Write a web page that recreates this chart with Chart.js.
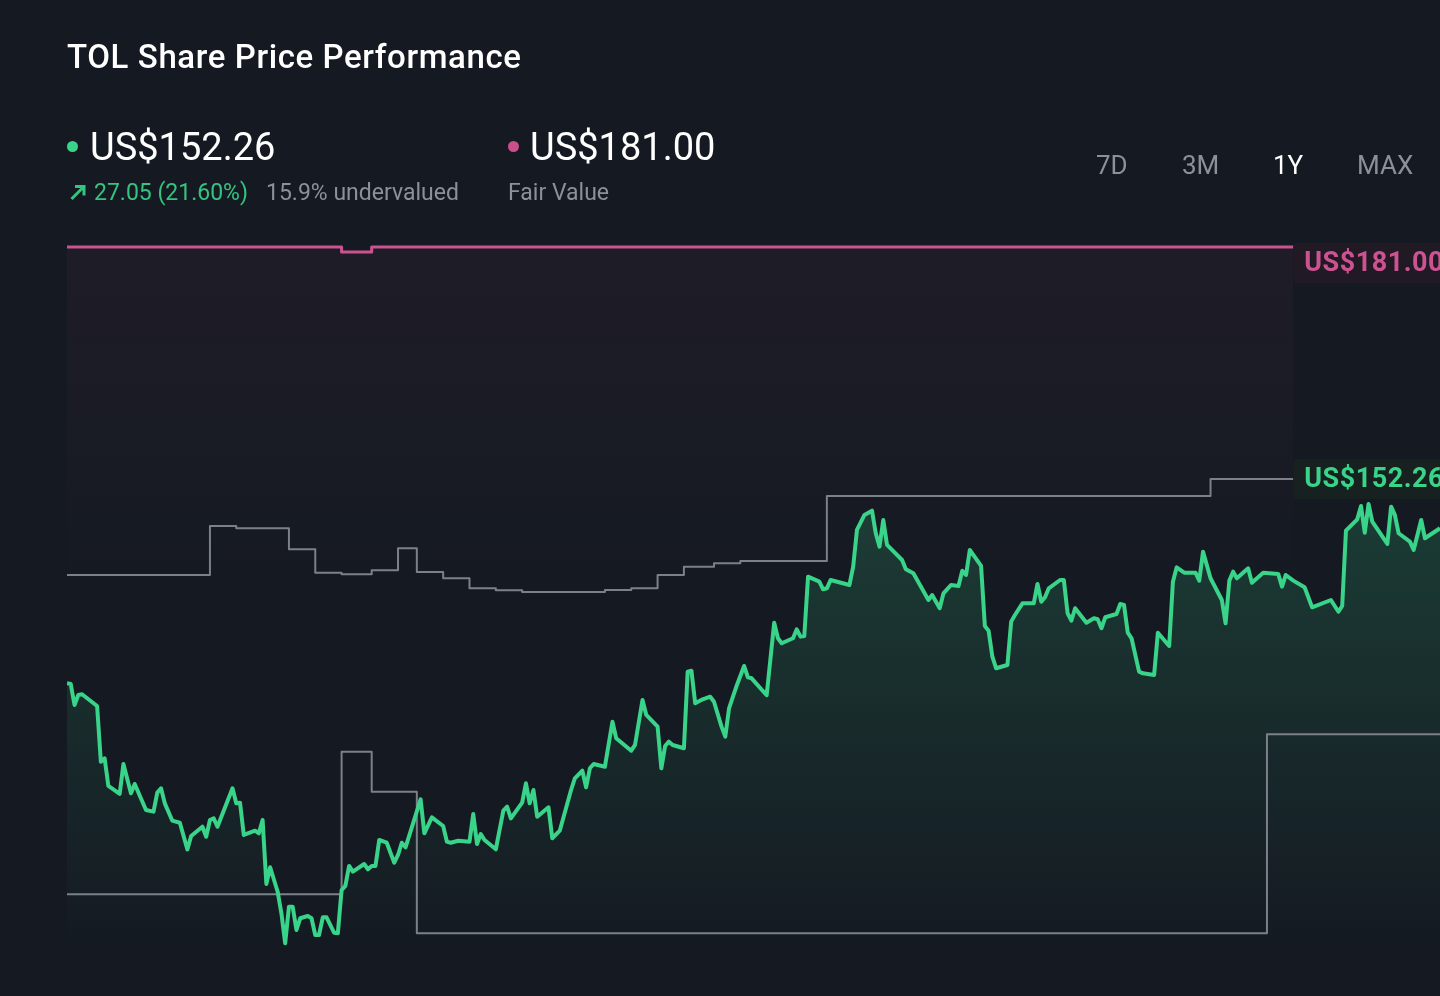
<!DOCTYPE html>
<html>
<head>
<meta charset="utf-8">
<title>TOL Share Price Performance</title>
<script src="https://cdn.jsdelivr.net/npm/chart.js@4.4.1/dist/chart.umd.min.js"></script>
<style>
  html, body { margin: 0; padding: 0; background: #151a22; }
  body { width: 1440px; height: 996px; overflow: hidden; font-family: Roboto, "Noto Sans", sans-serif; }
  #wrap { position: relative; width: 1440px; height: 996px; }
  #chart { position: absolute; left: 0; top: 0; }
  .t { position: absolute; line-height: 1; white-space: nowrap; }
  .dot { position: absolute; width: 11px; height: 11px; border-radius: 50%; }
  .tab { position: absolute; top: 152px; font-size: 26px; line-height: 1; color: #8b9099; }
</style>
</head>
<body>
<div id="wrap">
  <canvas id="chart" width="1440" height="996"></canvas>

  <div class="t" style="left:67px;top:40px;font-size:33px;font-weight:500;letter-spacing:0.6px;color:#ffffff;">TOL Share Price Performance</div>

  <div class="dot" style="left:67px;top:141px;background:#3ad38a;"></div>
  <div class="t" style="left:90px;top:128px;font-size:38px;color:#ffffff;">US$152.26</div>
  <svg style="position:absolute;left:69px;top:183px;" width="18" height="18" viewBox="0 0 18 18">
    <path d="M2.5 16 L14.5 4 M6 3.5 L15 3.5 L15 12.5" fill="none" stroke="#35c47f" stroke-width="3"/>
  </svg>
  <div class="t" style="left:94px;top:181px;font-size:23px;color:#35c47f;">27.05 (21.60%)</div>
  <div class="t" style="left:266px;top:181px;font-size:23px;color:#8c9199;">15.9% undervalued</div>

  <div class="dot" style="left:508px;top:141px;background:#c9508c;"></div>
  <div class="t" style="left:530px;top:128px;font-size:38px;color:#ffffff;">US$181.00</div>
  <div class="t" style="left:508px;top:181px;font-size:23px;color:#8c9199;">Fair Value</div>

  <div class="tab" style="left:1096px;">7D</div>
  <div class="tab" style="left:1182px;">3M</div>
  <div class="tab" style="left:1273px;color:#ffffff;">1Y</div>
  <div class="tab" style="left:1357px;">MAX</div>
</div>

<script>
// Share price, one year (day number from start, price in US$)
const days = [0, 1, 2, 3, 4, 8, 9, 10, 11, 14, 15, 17, 18, 21, 23, 24, 25, 26, 28, 30,
  32, 33, 36, 37, 38, 39, 40, 44, 45, 46, 47, 50, 51, 52, 53, 54, 56, 57, 58, 59,
  60, 61, 62, 64, 65, 66, 67, 68, 69, 71, 72, 73, 74, 75, 76, 79, 80, 81, 82, 83,
  85, 87, 88, 89, 90, 94, 95, 97, 100, 101, 102, 104, 107, 108, 109, 110, 111, 114, 116, 117,
  118, 121, 122, 123, 124, 125, 128, 129, 131, 134, 135, 137, 138, 139, 140, 143, 145, 146, 150, 151,
  153, 154, 157, 158, 159, 160, 161, 164, 165, 166, 167, 169, 171, 172, 174, 175, 176, 178, 180, 181,
  182, 186, 188, 189, 190, 193, 194, 195, 196, 197, 200, 201, 202, 203, 208, 209, 210, 212, 214, 215,
  216, 217, 218, 222, 223, 225, 229, 230, 232, 233, 235, 237, 238, 239, 240, 243, 244, 245, 246, 247,
  250, 251, 252, 254, 257, 258, 259, 260, 261, 264, 265, 266, 267, 268, 271, 273, 274, 275, 276, 279,
  280, 281, 282, 283, 285, 286, 289, 290, 293, 294, 295, 297, 300, 301, 302, 304, 307, 308, 309, 310,
  311, 314, 315, 318, 322, 323, 324, 326, 329, 331, 336, 338, 339, 340, 343, 344, 345, 346, 347, 351,
  352, 353, 354, 357, 358, 360, 361, 365];
const prices = [126.94, 126.85, 124.25, 125.49, 125.58, 124.13, 117.23, 117.65, 114.22, 113.23, 116.94, 113.31, 114.47, 111.25, 111.04, 113.39, 113.93, 112.07, 109.92, 109.67,
  106.37, 108.02, 109.17, 107.93, 110.00, 110.21, 109.17, 113.93, 112.07, 112.15, 108.15, 108.68, 108.36, 110.00, 102.08, 104.15, 101.12, 98.44, 94.73, 99.26,
  99.26, 96.38, 97.83, 98.11, 97.83, 95.76, 95.76, 97.95, 97.95, 96.04, 95.97, 101.33, 101.83, 104.31, 103.60, 104.55, 103.90, 104.31, 104.31, 107.53,
  107.19, 104.71, 105.67, 107.19, 106.62, 112.57, 108.36, 110.34, 109.26, 107.32, 107.19, 107.44, 107.32, 110.75, 107.03, 108.27, 107.53, 106.38, 111.16, 111.65,
  110.21, 112.15, 114.55, 112.07, 113.72, 110.41, 111.58, 107.74, 108.68, 113.72, 115.17, 116.11, 114.06, 116.41, 116.94, 116.61, 122.18, 120.13, 118.59, 119.30,
  124.88, 123.02, 121.57, 116.41, 119.17, 119.71, 119.30, 118.89, 128.38, 128.50, 124.46, 124.96, 125.28, 124.66, 121.57, 120.33, 123.84, 126.61, 129.09, 127.69,
  127.56, 125.46, 134.45, 132.52, 131.90, 132.52, 133.63, 132.72, 132.80, 140.15, 139.53, 138.59, 138.71, 139.74, 139.12, 141.39, 145.94, 147.80, 148.33, 145.53,
  143.87, 147.18, 144.08, 142.22, 141.07, 140.57, 137.26, 137.88, 136.24, 138.09, 139.12, 138.99, 140.89, 140.36, 143.46, 141.48, 134.04, 133.46, 130.24, 128.80,
  129.21, 134.58, 135.40, 136.85, 136.85, 139.25, 137.05, 137.60, 138.71, 139.74, 139.74, 135.62, 134.70, 136.24, 134.45, 135.00, 134.87, 133.76, 135.12, 135.53,
  136.77, 136.65, 133.21, 132.52, 128.38, 128.18, 127.97, 133.21, 131.56, 139.53, 141.31, 140.65, 140.65, 139.66, 143.25, 139.95, 137.26, 134.37, 139.66, 140.77,
  139.95, 141.19, 139.40, 140.65, 140.49, 138.91, 140.36, 139.66, 138.84, 136.36, 137.26, 135.81, 136.52, 145.85, 147.26, 148.91, 145.60, 149.16, 146.97, 144.20,
  148.82, 147.80, 145.53, 144.49, 143.46, 147.18, 144.91, 146.15];

// Fair value estimate (steps)
const fairDays = [0, 73, 81, 326];
const fairValues = [181.00, 180.38, 181.00, 181.00];

// Grey step lines
const upperDays = [0, 38, 45, 59, 66, 73, 81, 88, 93, 100, 107, 114, 121, 143, 150, 157, 164, 172, 179, 202, 304, 326];
const upperValues = [140.36, 146.43, 146.15, 143.55, 140.65, 140.45, 140.94, 143.67, 140.73, 139.95, 138.71, 138.46, 138.25, 138.50, 138.71, 140.36, 141.39, 141.81, 142.09, 150.15, 152.26, 152.26];
const lowerDays = [0, 73, 81, 93, 319, 365];
const lowerValues = [100.80, 118.47, 113.51, 95.97, 120.62, 120.62];

const lastPrice = 152.26;
const fairValue = 181.00;
const tagEndDay = 326;

function toPoints(xs, ys) {
  return xs.map(function(x, i) { return { x: x, y: ys[i] }; });
}

const GREEN = '#3ad38a';
const PINK = '#cc5391';
const GREY = '#7b8089';

function roundRect(ctx, x, y, w, h, r) {
  ctx.beginPath();
  ctx.moveTo(x + r, y);
  ctx.lineTo(x + w - r, y);
  ctx.quadraticCurveTo(x + w, y, x + w, y + r);
  ctx.lineTo(x + w, y + h - r);
  ctx.quadraticCurveTo(x + w, y + h, x + w - r, y + h);
  ctx.lineTo(x + r, y + h);
  ctx.quadraticCurveTo(x, y + h, x, y + h - r);
  ctx.lineTo(x, y + r);
  ctx.quadraticCurveTo(x, y, x + r, y);
  ctx.closePath();
}

// value tags on the right edge
const priceTags = {
  id: 'priceTags',
  afterDatasetsDraw: function(chart) {
    const ctx = chart.ctx;
    const xs = chart.scales.x;
    const ys = chart.scales.y;
    const left = xs.getPixelForValue(tagEndDay);
    const tags = [
      { y: ys.getPixelForValue(fairValue) + 16, text: 'US$' + fairValue.toFixed(2), color: PINK, bg: '#211a24' },
      { y: ys.getPixelForValue(lastPrice), text: 'US$' + lastPrice.toFixed(2), color: GREEN, bg: '#17211f' }
    ];
    ctx.save();
    tags.forEach(function(tag) {
      ctx.fillStyle = tag.bg;
      roundRect(ctx, left, tag.y - 20, 170, 40, 5);
      ctx.fill();
      ctx.fillStyle = tag.color;
      ctx.font = 'bold 27px Roboto, sans-serif';
      ctx.letterSpacing = '0.5px';
      ctx.textBaseline = 'middle';
      ctx.fillText(tag.text, left + 11, tag.y + 1);
    });
    ctx.restore();
  }
};

const ctx = document.getElementById('chart').getContext('2d');

const greenFill = ctx.createLinearGradient(0, 500, 0, 950);
greenFill.addColorStop(0, 'rgba(58, 211, 138, 0.19)');
greenFill.addColorStop(1, 'rgba(58, 211, 138, 0)');

const pinkFill = ctx.createLinearGradient(0, 247, 0, 620);
pinkFill.addColorStop(0, 'rgba(204, 83, 145, 0.05)');
pinkFill.addColorStop(1, 'rgba(204, 83, 145, 0)');

new Chart(ctx, {
  type: 'line',
  data: {
    datasets: [{
      label: 'Share Price',
      data: toPoints(days, prices),
      borderColor: GREEN,
      borderWidth: 4,
      backgroundColor: greenFill,
      fill: 'start',
      order: 0
    }, {
      label: 'Upper',
      data: toPoints(upperDays, upperValues),
      borderColor: GREY,
      borderWidth: 2,
      stepped: true,
      fill: false,
      order: 1
    }, {
      label: 'Lower',
      data: toPoints(lowerDays, lowerValues),
      borderColor: GREY,
      borderWidth: 2,
      stepped: true,
      fill: false,
      order: 2
    }, {
      label: 'Fair Value',
      data: toPoints(fairDays, fairValues),
      borderColor: PINK,
      borderWidth: 3,
      stepped: true,
      backgroundColor: pinkFill,
      fill: 'start',
      order: 3
    }]
  },
  options: {
    responsive: false,
    animation: false,
    layout: { padding: { left: 67, top: 230, right: 0, bottom: 0 } },
    elements: {
      point: { radius: 0, hoverRadius: 0 },
      line: { tension: 0, borderJoinStyle: 'round', borderCapStyle: 'butt' }
    },
    scales: {
      x: { type: 'linear', min: 0, max: 365, display: false },
      y: { type: 'linear', min: 88.2, max: 183.1, display: false }
    },
    plugins: {
      legend: { display: false },
      tooltip: { enabled: false },
      filler: { drawTime: 'beforeDatasetsDraw' }
    }
  },
  plugins: [priceTags]
});
</script>
</body>
</html>
